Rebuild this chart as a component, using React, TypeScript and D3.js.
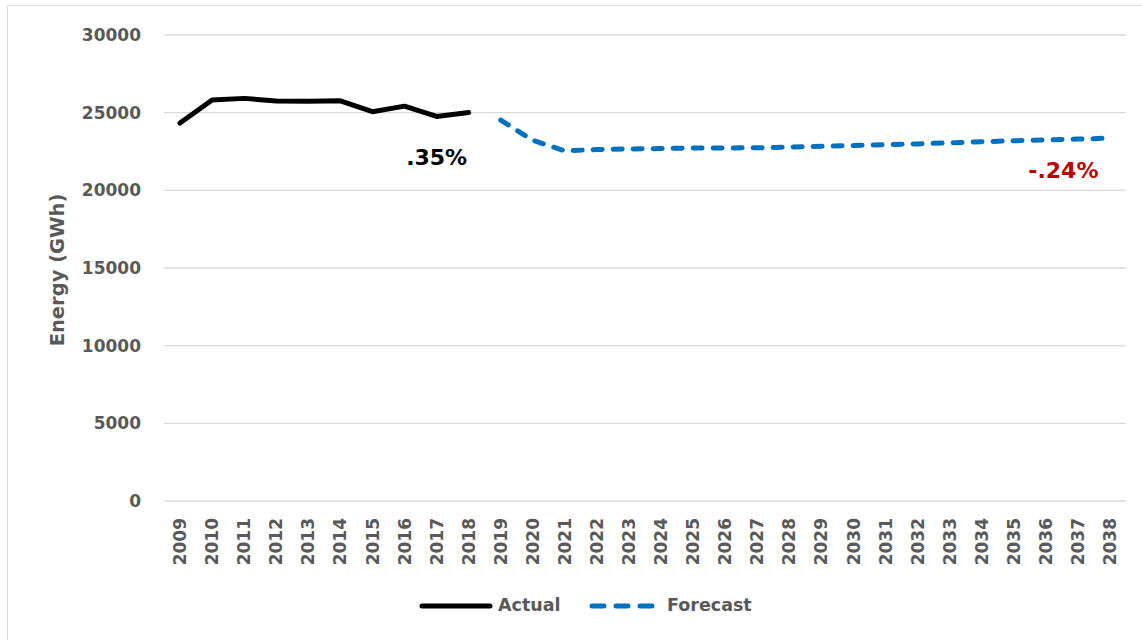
import React from "react";
import * as d3 from "d3";

const years: string[] = d3.range(2009, 2039).map(String);
const actualYears = ["2009","2010","2011","2012","2013","2014","2015","2016","2017","2018"];
const actualValues = [24330, 25820, 25920, 25750, 25740, 25760, 25060, 25420, 24760, 25010];
const forecastYears = ["2019","2020","2021","2022","2023","2024","2025","2026","2027","2028","2029","2030","2031","2032","2033","2034","2035","2036","2037","2038"];
const forecastValues = [24520, 23220, 22540, 22630, 22660, 22690, 22720, 22730, 22740, 22790, 22840, 22890, 22940, 22990, 23060, 23130, 23190, 23250, 23300, 23360];
const yTicks = [0, 5000, 10000, 15000, 20000, 25000, 30000];
const annotations = [
  { year: "2018", text: ".35%", color: "#000000" },
  { year: "2037", text: "-.24%", color: "#C00000" },
];

const W = 1142, H = 640;
const left = 164, right = 1126, top = 35, bottom = 501;
const FONT = "'DejaVu Sans', sans-serif";
const GRAY = "#595959";

export default function App() {
  const x = d3.scaleBand<string>().domain(years).range([left, right]);
  const y = d3.scaleLinear().domain([0, 30000]).range([bottom, top]);
  const cx = (yr: string) => (x(yr) ?? 0) + x.bandwidth() / 2;
  const line = d3.line<[string, number]>().x(d => cx(d[0])).y(d => y(d[1]));
  const actual = line(actualYears.map((yr, i) => [yr, actualValues[i]]));
  const forecast = line(forecastYears.map((yr, i) => [yr, forecastValues[i]]));

  return (
    <svg width={W} height={H} style={{ position: "absolute", left: 0, top: 0 }}>
      <rect x={0} y={0} width={W} height={H} fill="#fff" />
      <rect x={7.5} y={5.5} width={W} height={H} fill="none" stroke="#d9d9d9" strokeWidth={1} />
      {yTicks.map(t => (
        <g key={t}>
          <line x1={left} x2={right} y1={y(t)} y2={y(t)} stroke="#d9d9d9" strokeWidth={1.3} />
          <text x={141} y={y(t)} dy="0.36em" textAnchor="end" fontFamily={FONT} fontWeight={700} fontSize={17} fill={GRAY}>{t}</text>
        </g>
      ))}
      {years.map(yr => (
        <text key={yr} transform={`translate(${cx(yr)},${518}) rotate(-90)`} dy="0.36em" textAnchor="end" fontFamily={FONT} fontWeight={700} fontSize={17} fill={GRAY}>{yr}</text>
      ))}
      <text transform={`translate(64,${270}) rotate(-90)`} textAnchor="middle" fontFamily={FONT} fontWeight={700} fontSize={19.5} fill={GRAY}>Energy (GWh)</text>
      <path d={actual ?? ""} fill="none" stroke="#000" strokeWidth={5} strokeLinejoin="round" strokeLinecap="round" />
      <path d={forecast ?? ""} fill="none" stroke="#0070C0" strokeWidth={5} strokeDasharray="9 11" strokeLinecap="round" strokeLinejoin="round" />
      <text x={cx(annotations[0].year) - 32} y={165} textAnchor="middle" fontFamily={FONT} fontWeight={700} fontSize={22} fill={annotations[0].color}>{annotations[0].text}</text>
      <text x={cx(annotations[1].year) - 14.5} y={178} textAnchor="middle" fontFamily={FONT} fontWeight={700} fontSize={22} fill={annotations[1].color}>{annotations[1].text}</text>
      <g>
        <line x1={422} x2={490} y1={606} y2={606} stroke="#000" strokeWidth={5} strokeLinecap="round" />
        <text x={498} y={605} dy="0.36em" fontFamily={FONT} fontWeight={700} fontSize={17.5} fill={GRAY}>Actual</text>
        <line x1={592} x2={654} y1={606} y2={606} stroke="#0070C0" strokeWidth={5} strokeDasharray="12 12" strokeLinecap="round" />
        <text x={667} y={605} dy="0.36em" fontFamily={FONT} fontWeight={700} fontSize={17.5} fill={GRAY}>Forecast</text>
      </g>
    </svg>
  );
}
